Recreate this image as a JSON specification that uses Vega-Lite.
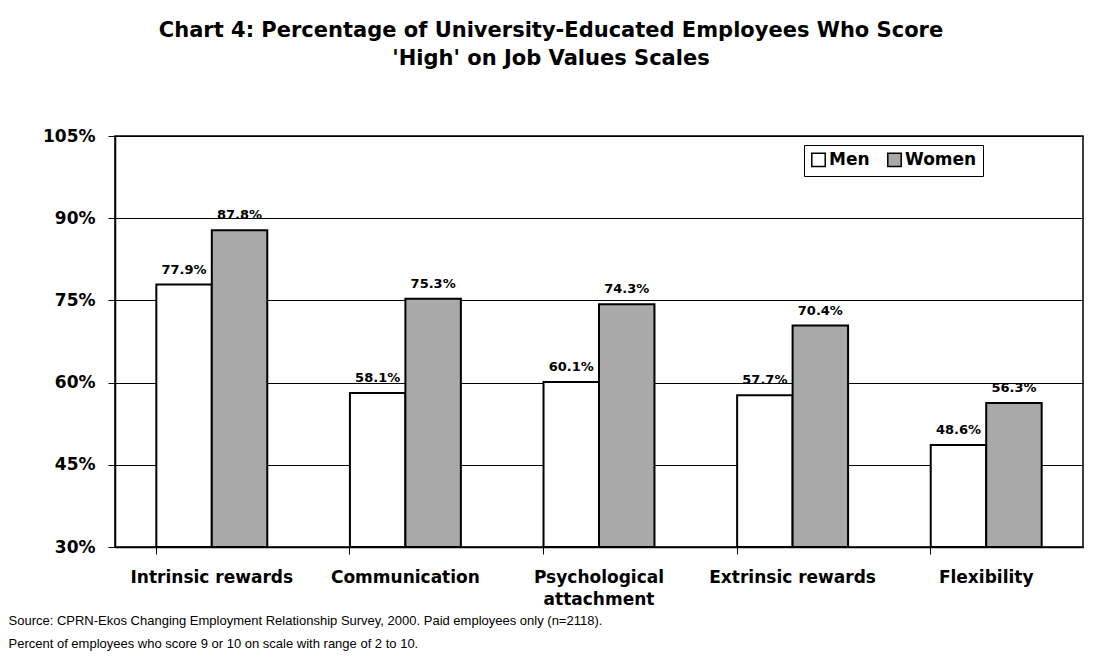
{
  "$schema": "https://vega.github.io/schema/vega-lite/v6.json",
  "autosize": "none",
  "width": 968,
  "height": 411,
  "padding": {"left": 115, "top": 136, "right": 19, "bottom": 120},
  "background": "white",
  "title": {
    "text": ["Chart 4: Percentage of University-Educated Employees Who Score", "'High' on Job Values Scales"],
    "font": "DejaVu Sans",
    "fontSize": 21,
    "fontWeight": "bold",
    "lineHeight": 28,
    "anchor": "middle",
    "dx": -48,
    "offset": 58,
    "color": "black"
  },
  "data": {
    "values": [
      {"category": "Intrinsic rewards", "gender": "Men", "value": 77.9, "label": "77.9%"},
      {"category": "Intrinsic rewards", "gender": "Women", "value": 87.8, "label": "87.8%"},
      {"category": "Communication", "gender": "Men", "value": 58.1, "label": "58.1%"},
      {"category": "Communication", "gender": "Women", "value": 75.3, "label": "75.3%"},
      {"category": "Psychological attachment", "gender": "Men", "value": 60.1, "label": "60.1%"},
      {"category": "Psychological attachment", "gender": "Women", "value": 74.3, "label": "74.3%"},
      {"category": "Extrinsic rewards", "gender": "Men", "value": 57.7, "label": "57.7%"},
      {"category": "Extrinsic rewards", "gender": "Women", "value": 70.4, "label": "70.4%"},
      {"category": "Flexibility", "gender": "Men", "value": 48.6, "label": "48.6%"},
      {"category": "Flexibility", "gender": "Women", "value": 56.3, "label": "56.3%"}
    ]
  },
  "encoding": {
    "x": {
      "field": "category",
      "type": "nominal",
      "sort": ["Intrinsic rewards", "Communication", "Psychological attachment", "Extrinsic rewards", "Flexibility"],
      "scale": {"paddingInner": 0.427, "paddingOuter": 0.2135},
      "axis": {
        "labelAngle": 0,
        "bandPosition": 0,
        "labelBound": false,
        "labelOverlap": false,
        "labelFont": "DejaVu Sans",
        "labelFontSize": 17,
        "labelFontWeight": "bold",
        "labelColor": "black",
        "labelPadding": 15,
        "labelLineHeight": 22,
        "labelExpr": "datum.label == 'Psychological attachment' ? ['Psychological', 'attachment'] : datum.label",
        "tickSize": 7,
        "tickColor": "black",
        "domainColor": "black",
        "domainWidth": 1.5,
        "title": ["Source: CPRN-Ekos Changing Employment Relationship Survey, 2000. Paid employees only (n=2118).", "Percent of employees who score 9 or 10 on scale with range of 2 to 10."],
        "titleFont": "Liberation Sans",
        "titleFontSize": 13,
        "titleFontWeight": "normal",
        "titleColor": "black",
        "titleAnchor": "start",
        "titleAlign": "left",
        "titleBaseline": "top",
        "titleLineHeight": 23,
        "titleX": -107,
        "titleY": 67
      }
    },
    "xOffset": {"field": "gender", "type": "nominal", "sort": ["Men", "Women"], "scale": {"paddingInner": 0}}
  },
  "layer": [
    {
      "mark": {"type": "bar", "stroke": "black", "strokeWidth": 2},
      "encoding": {
        "y": {
          "field": "value",
          "type": "quantitative",
          "scale": {"domain": [30, 105], "zero": false, "nice": false},
          "axis": {
            "values": [30, 45, 60, 75, 90, 105],
            "labelExpr": "datum.value + '%'",
            "labelFont": "DejaVu Sans",
            "labelFontSize": 17,
            "labelFontWeight": "bold",
            "labelColor": "black",
            "labelPadding": 13,
            "tickSize": 7,
            "tickColor": "black",
            "domainColor": "black",
            "domainWidth": 1.5,
            "grid": true,
            "gridColor": "black",
            "gridOpacity": 1,
            "gridWidth": 1,
            "title": null
          }
        },
        "y2": {"datum": 30},
        "fill": {
          "field": "gender",
          "type": "nominal",
          "scale": {"domain": ["Men", "Women"], "range": ["white", "#a9a9a9"]},
          "legend": {
            "title": null,
            "orient": "none",
            "direction": "horizontal",
            "legendX": 689,
            "legendY": 9,
            "symbolType": "square",
            "symbolSize": 180,
            "symbolStrokeColor": "black",
            "symbolStrokeWidth": 1.5,
            "labelFont": "DejaVu Sans",
            "labelFontSize": 17,
            "labelFontWeight": "bold",
            "labelColor": "black",
            "labelOffset": 2,
            "columnPadding": 14,
            "strokeColor": "black",
            "fillColor": "white",
            "padding": 6
          }
        }
      }
    },
    {
      "mark": {"type": "text", "baseline": "bottom", "dy": -8, "font": "DejaVu Sans", "fontSize": 13, "fontWeight": "bold", "color": "black"},
      "encoding": {
        "y": {"field": "value", "type": "quantitative"},
        "text": {"field": "label", "type": "nominal"},
        "detail": {"field": "gender"}
      }
    }
  ],
  "config": {
    "view": {"stroke": "black", "strokeWidth": 1.5}
  }
}
